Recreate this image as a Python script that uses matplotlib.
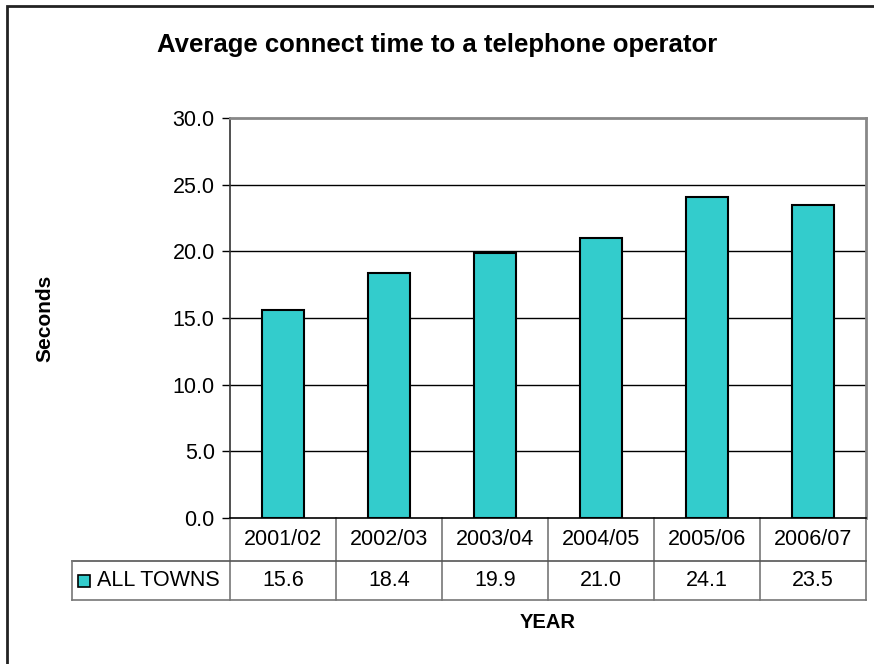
import matplotlib.pyplot as plt
from matplotlib.patches import Rectangle

years = ['2001/02', '2002/03', '2003/04', '2004/05', '2005/06', '2006/07']
seconds = [15.6, 18.4, 19.9, 21.0, 24.1, 23.5]
series_name = 'ALL TOWNS'
yticks = [0, 5, 10, 15, 20, 25, 30]

plt.rcParams['font.family'] = ['Liberation Sans', 'DejaVu Sans']

W, H = 874, 664
fig = plt.figure(figsize=(W / 100, H / 100), dpi=100)

# plot area in pixels: left 230, top 118, right 866, bottom 518
L, T, R, B = 230, 118, 866, 518
ax = fig.add_axes([L / W, 1 - B / H, (R - L) / W, (B - T) / H])

fs = 15.5
bar_color = '#33CCCC'
x = list(range(len(years)))
ax.bar(x, seconds, width=0.4, color=bar_color, edgecolor='black', linewidth=1.5, zorder=3)

ax.set_xlim(-0.5, len(years) - 0.5)
ax.set_ylim(0, 30)
ax.set_yticks(yticks)
ax.set_yticklabels([f'{v:.1f}' for v in yticks], fontsize=fs)
ax.tick_params(axis='y', length=6, width=1, pad=5, direction='out')
ax.set_xticks([])
for v in yticks[1:-1]:
    ax.axhline(v, color='black', linewidth=1, zorder=1)

ax.spines['left'].set_color('#333333')
ax.spines['bottom'].set_color('black')
ax.spines['top'].set_color('#888888')
ax.spines['right'].set_color('#888888')
for s in ax.spines.values():
    s.set_linewidth(1.2)
ax.spines['top'].set_linewidth(2)
ax.spines['right'].set_linewidth(2)

# data table under the plot
row1 = -(561 - B) / (B - T)
row2 = -(600 - B) / (B - T)
leg_left = (72 - L) / (R - L)
grey = '#777777'
xt = ax.get_xaxis_transform()
for i in range(len(years) + 1):
    ax.plot([i - 0.5, i - 0.5], [0, row2], transform=xt, color=grey, lw=1.2, clip_on=False)
ax.plot([leg_left, 1], [row1, row1], transform=ax.transAxes, color='#555555', lw=1.2, clip_on=False)
ax.plot([leg_left, 1], [row2, row2], transform=ax.transAxes, color=grey, lw=1.2, clip_on=False)
ax.plot([leg_left, leg_left], [row1, row2], transform=ax.transAxes, color=grey, lw=1.2, clip_on=False)

for i, (yr, val) in enumerate(zip(years, seconds)):
    ax.text(i, row1 / 2, yr, transform=xt, ha='center', va='center', fontsize=fs)
    ax.text(i, (row1 + row2) / 2, f'{val:.1f}', transform=xt, ha='center', va='center', fontsize=fs)

sw = 12 / (R - L)
swh = 12 / (B - T)
ym = (row1 + row2) / 2
ax.add_patch(Rectangle((leg_left + 6 / (R - L), ym - swh / 2), sw, swh, transform=ax.transAxes,
                       facecolor=bar_color, edgecolor='black', lw=1.2, clip_on=False))
ax.text(leg_left + 25 / (R - L), ym, series_name, transform=ax.transAxes, ha='left', va='center', fontsize=fs)

fig.text(0.5, 1 - 45 / H, 'Average connect time to a telephone operator', ha='center', va='center',
         fontsize=18.5, fontweight='bold')
fig.text(45 / W, 1 - 318 / H, 'Seconds', rotation=90, ha='center', va='center',
         fontsize=15, fontweight='bold')
fig.text((L + R) / 2 / W, 1 - 622 / H, 'YEAR', ha='center', va='center', fontsize=14.5, fontweight='bold')

# chart border (only top and left edges fall inside the image)
fig.add_artist(Rectangle((7 / W, -0.1), 1.2, 1 - 6 / H + 0.1, transform=fig.transFigure,
                         fill=False, edgecolor='#222222', lw=2))

fig.savefig('out.png', dpi=100)
